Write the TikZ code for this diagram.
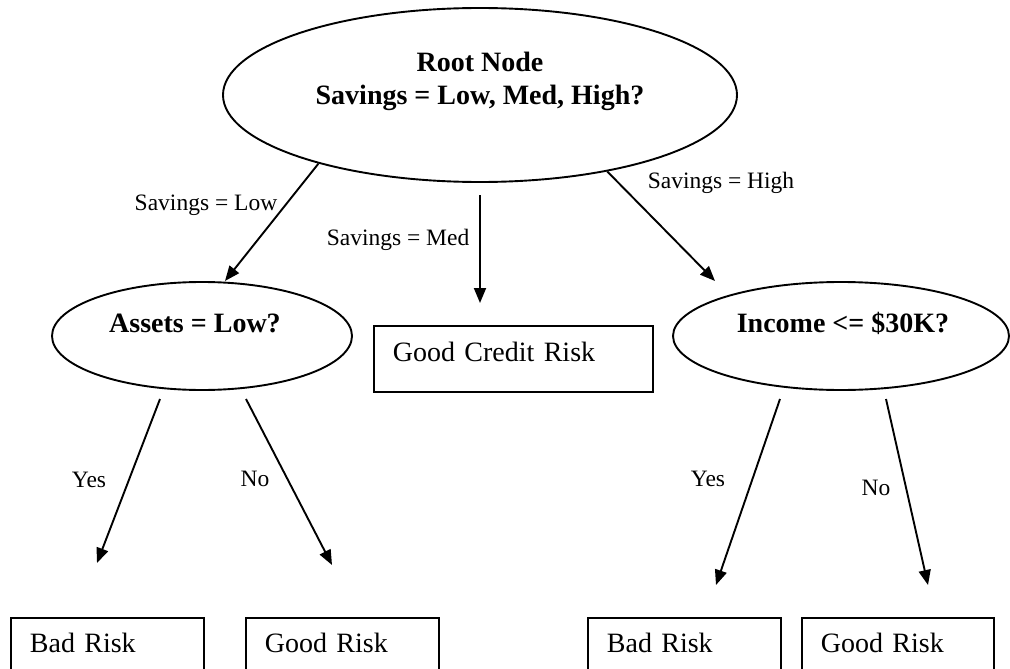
\documentclass[tikz,border=0pt]{standalone}
\usepackage{fontspec}
\setmainfont{Liberation Serif}
\usetikzlibrary{shapes.geometric, arrows.meta}
\begin{document}
\begin{tikzpicture}[x=1pt,y=-1pt,
  line width=1.9pt,
  oval/.style={draw, ellipse, inner sep=0pt},
  ovaltext/.style={font=\fontsize{28}{33}\selectfont\bfseries, align=center, inner sep=0pt},
  lab/.style={font=\fontsize{23.5}{28}\selectfont, inner sep=0pt},
  leaf/.style={draw, anchor=north west, inner xsep=19pt, inner ysep=0pt,
    text depth=30pt, align=left, font=\fontsize{28}{33}\selectfont},
  arr/.style={-{Triangle[length=15pt,width=12pt]}}
]
\clip (0,0) rectangle (1010,669);

% decision nodes
\node[oval, minimum width=514pt, minimum height=174pt,
  label={[ovaltext, yshift=14pt]center:Root Node\\Savings = Low, Med, High?}] (root) at (480,95) {};
\node[oval, minimum width=300pt, minimum height=108pt,
  label={[ovaltext, xshift=-7pt, yshift=13pt]center:Assets = Low?}] (assets) at (202,336) {};
\node[oval, minimum width=336pt, minimum height=108pt,
  label={[ovaltext, xshift=2pt, yshift=13pt]center:Income <= \$30K?}] (income) at (841,336) {};

% leaves
\node[leaf, text width=241pt, text height=36pt] (good) at (373,325) {Good Credit Risk};
\node[leaf, text width=155pt, text height=35pt] (lbad) at (10,617) {Bad Risk};
\node[leaf, text width=155pt, text height=35pt] (lgood) at (245,617) {Good Risk};
\node[leaf, text width=155pt, text height=35pt] (rbad) at (587,617) {Bad Risk};
\node[leaf, text width=154pt, text height=35pt] (rgood) at (801,617) {Good Risk};

% connector end points
\coordinate (lowtip) at (225,281);
\coordinate (medtop) at (480,195);
\coordinate (medtip) at (480,303);
\coordinate (hightip) at (715,281);
\coordinate (lytop) at (160,399);
\coordinate (lytip) at (97,563);
\coordinate (lntop) at (246,399);
\coordinate (lntip) at (332,565);
\coordinate (rytop) at (780,399);
\coordinate (rytip) at (716,585);
\coordinate (rntop) at (886,399);
\coordinate (rntip) at (928,585);

% connectors
\draw[arr] (root.203) -- (lowtip);
\draw[arr] (medtop) -- (medtip);
\draw[arr] (root.-31) -- (hightip);
\draw[arr] (lytop) -- (lytip);
\draw[arr] (lntop) -- (lntip);
\draw[arr] (rytop) -- (rytip);
\draw[arr] (rntop) -- (rntip);

% labels
\node[lab] (llow) at (206,205) {Savings = Low};
\node[lab] (lmed) at (398,240) {Savings = Med};
\node[lab] (lhigh) at (721,183) {Savings = High};
\node[lab] (lyes) at (89,480) {Yes};
\node[lab] (lno) at (255,479) {No};
\node[lab] (ryes) at (708,479) {Yes};
\node[lab] (rno) at (876,488) {No};
\end{tikzpicture}
\end{document}
